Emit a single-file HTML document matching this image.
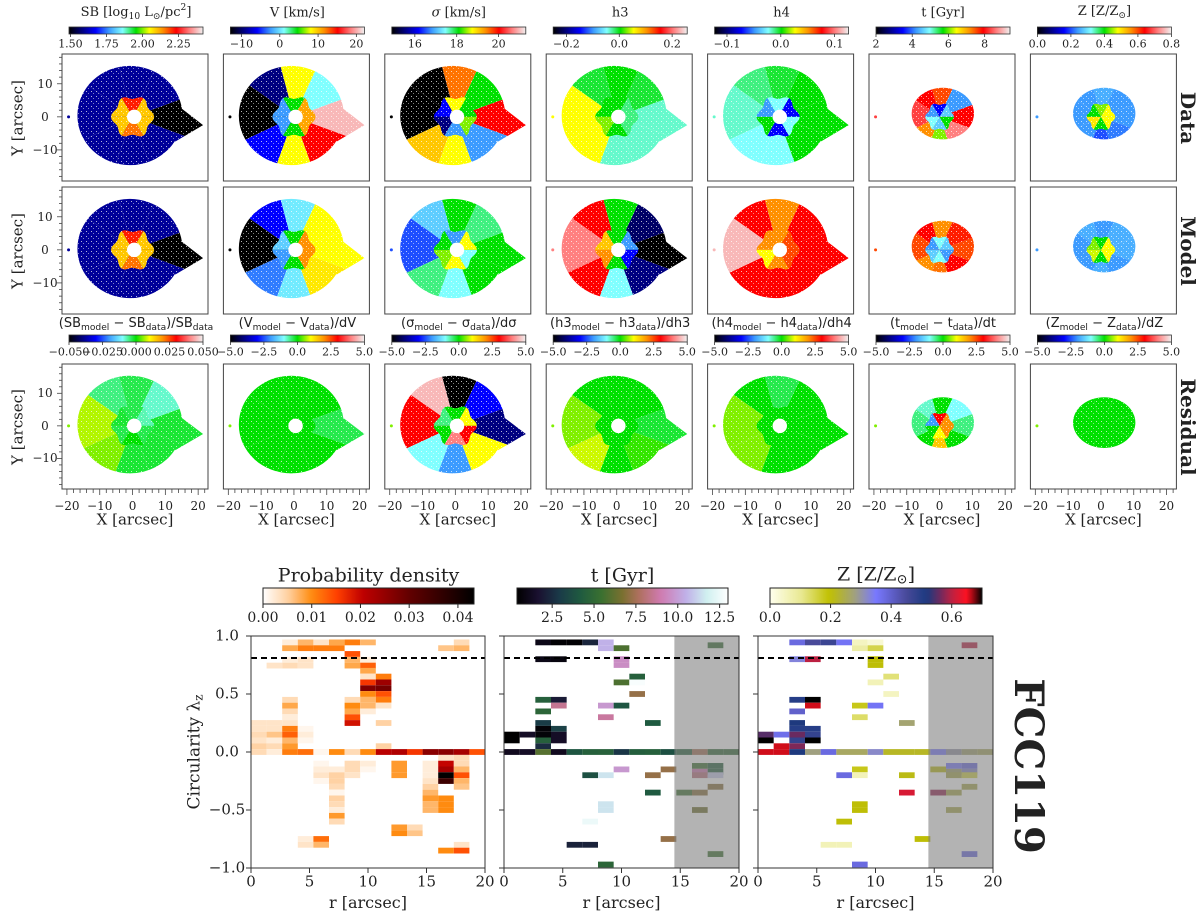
<!DOCTYPE html>
<html><head><meta charset="utf-8">
<style>
body{margin:0;background:#fff;}
#wrap{position:relative;width:1200px;height:914px;overflow:hidden;font-family:"DejaVu Serif","Liberation Serif",serif;color:#222;}
.t{position:absolute;white-space:nowrap;transform:translate(-50%,-50%);line-height:1;}
.s{font-family:"DejaVu Sans","Liberation Sans",sans-serif;}
sub{font-size:70%;vertical-align:-3px;}
sup{font-size:70%;vertical-align:6px;}
</style></head>
<body>
<div id="wrap">
<svg id="svg" width="1200" height="914" style="position:absolute;left:0;top:0"></svg>
</div>
<script>
// ---------- data ----------
const topTitles = ['SB [log<sub>10</sub> L<sub>⊙</sub>/pc<sup>2</sup>]','V [km/s]','<i>σ</i> [km/s]','h3','h4','t [Gyr]','Z [Z/Z<sub>⊙</sub>]'];
const topRanges = [[1.49,2.42],[-12.9,22.1],[14.9,21.3],[-0.25,0.257],[-0.123,0.126],[2,9.4],[0,0.8]];
const topTicks = [[1.5,1.75,2.0,2.25],[-10,0,10,20],[16,18,20],[-0.2,0,0.2],[-0.1,0,0.1],[2,4,6,8],[0,0.2,0.4,0.6,0.8]];
const topTickLabels = [['1.50','1.75','2.00','2.25'],['−10','0','10','20'],['16','18','20'],['−0.2','0.0','0.2'],['−0.1','0.0','0.1'],['2','4','6','8'],['0.0','0.2','0.4','0.6','0.8']];
const resTitles = ['(SB<sub>model</sub> − SB<sub>data</sub>)/SB<sub>data</sub>','(V<sub>model</sub> − V<sub>data</sub>)/dV','(σ<sub>model</sub> − σ<sub>data</sub>)/dσ','(h3<sub>model</sub> − h3<sub>data</sub>)/dh3','(h4<sub>model</sub> − h4<sub>data</sub>)/dh4','(t<sub>model</sub> − t<sub>data</sub>)/dt','(Z<sub>model</sub> − Z<sub>data</sub>)/dZ'];
const resTicks0 = [-0.05,-0.025,0,0.025,0.05];
const resTickLabels0 = ['−0.050','−0.025','0.000','0.025','0.050'];
const resTicks = [-5,-2.5,0,2.5,5];
const resTickLabels = ['−5.0','−2.5','0.0','2.5','5.0'];
const rowLabels = ['Data','Model','Residual'];
const outerVals = [
 [[0.0,0.12,0.12,0.12,0.12,0.12,0.12,0.12],[0.95,0.4,0.6,0.1,0.0,0.2,0.6,0.8],[0.8,0.5,0.72,0.0,0.0,0.65,0.6,0.3],[0.42,0.48,0.5,0.48,0.6,0.6,0.42,0.42],[0.5,0.5,0.48,0.45,0.42,0.4,0.4,0.5],[0.8,0.3,0.75,0.8,0.85,0.7,0.55,0.9],[0.3,0.3,0.32,0.3,0.3,0.3,0.25,0.28]],
 [[0.0,0.12,0.12,0.12,0.12,0.12,0.12,0.12],[0.6,0.6,0.38,0.2,0.0,0.28,0.38,0.62],[0.5,0.45,0.5,0.35,0.25,0.45,0.4,0.5],[0.0,0.08,0.5,0.8,0.9,0.8,0.4,0.1],[0.8,0.8,0.7,0.8,0.95,0.8,0.8,0.8],[0.75,0.78,0.7,0.8,0.75,0.7,0.72,0.8],[0.32,0.32,0.3,0.32,0.3,0.3,0.32,0.3]],
 [[0.48,0.42,0.47,0.45,0.57,0.55,0.48,0.48],[0.47,0.5,0.5,0.5,0.5,0.5,0.5,0.5],[0.1,0.2,0.0,0.95,0.8,0.4,0.3,0.6],[0.48,0.5,0.5,0.5,0.55,0.58,0.5,0.52],[0.5,0.5,0.47,0.5,0.55,0.55,0.5,0.5],[0.45,0.4,0.5,0.42,0.45,0.5,0.65,0.5],[0.5,0.5,0.5,0.5,0.5,0.5,0.5,0.5]]
];
const innerVals = [
 [[0.65,0.78,0.65,0.65,0.72,0.65],[0.68,0.5,0.3,0.3,0.5,0.68],[0.5,0.6,0.2,0.1,0.3,0.55],[0.45,0.5,0.5,0.55,0.5,0.45],[0.2,0.4,0.3,0.5,0.2,0.4],[0.35,0.2,0.3,0.4,0.35,0.5],[0.6,0.55,0.5,0.62,0.5,0.6]],
 [[0.65,0.78,0.65,0.65,0.72,0.65],[0.7,0.5,0.35,0.3,0.5,0.7],[0.6,0.3,0.5,0.55,0.6,0.4],[0.3,0.5,0.65,0.7,0.5,0.2],[0.75,0.7,0.7,0.6,0.7,0.75],[0.35,0.4,0.3,0.35,0.4,0.3],[0.6,0.5,0.55,0.58,0.5,0.6]],
 [[0.43,0.47,0.48,0.47,0.5,0.47],[0.5,0.5,0.5,0.5,0.5,0.5],[0.6,0.5,0.45,0.5,0.9,0.8],[0.5,0.5,0.5,0.5,0.5,0.5],[0.5,0.5,0.5,0.5,0.5,0.5],[0.7,0.8,0.3,0.5,0.6,0.7],[0.5,0.5,0.5,0.5,0.5,0.5]]
];
const probCells = [
[2,0.945,0.002],[3,0.945,0.007],[4,0.945,0.003],[5,0.945,0.008],[6,0.945,0.011],[7,0.945,0.007],[13,0.945,0.004],
[2,0.895,0.008],[3,0.895,0.011],[4,0.895,0.011],[5,0.895,0.011],[12,0.895,0.006],[13,0.895,0.007],
[6,0.845,0.014],
[2,0.795,0.002],[3,0.795,0.003],[6,0.795,0.007],[7,0.795,0.002],
[1,0.745,0.003],[2,0.745,0.004],[3,0.745,0.003],[6,0.745,0.008],[7,0.745,0.013],
[7,0.7,0.008],[7,0.65,0.003],[8,0.65,0.011],[7,0.6,0.016],[8,0.6,0.024],[7,0.55,0.027],[8,0.55,0.028],[7,0.5,0.01],[8,0.5,0.014],
[2,0.45,0.004],[6,0.45,0.004],[7,0.45,0.007],[8,0.45,0.011],
[2,0.4,0.008],[6,0.4,0.01],[7,0.4,0.007],[8,0.4,0.003],
[2,0.35,0.004],[6,0.35,0.008],[7,0.35,0.002],[2,0.3,0.002],[6,0.3,0.014],
[0,0.25,0.003],[1,0.25,0.003],[2,0.25,0.003],[6,0.25,0.019],[8,0.25,0.005],
[0,0.2,0.003],[1,0.2,0.003],[2,0.2,0.011],[3,0.2,0.001],
[0,0.15,0.004],[1,0.15,0.006],[2,0.15,0.013],[3,0.15,0.002],
[0,0.1,0.003],[1,0.1,0.002],[2,0.1,0.007],[3,0.1,0.001],
[0,0.05,0.005],[1,0.05,0.004],[2,0.05,0.009],[8,0.05,0.005],
[0,0.0,0.004],[1,0.0,0.002],[2,0.0,0.011],[3,0.0,0.012],[4,0.0,0.001],[5,0.0,0.01],[6,0.0,0.004],[7,0.0,0.01],[8,0.0,0.021],[9,0.0,0.022],[10,0.0,0.016],[11,0.0,0.026],[12,0.0,0.026],[13,0.0,0.023],[14,0.0,0.014],
[12,-0.05,0.003],[13,-0.05,0.004],
[4,-0.1,0.001],[6,-0.1,0.004],[7,-0.1,0.002],[9,-0.1,0.009],[11,-0.1,0.002],[12,-0.1,0.02],[13,-0.1,0.004],
[4,-0.15,0.002],[5,-0.15,0.002],[6,-0.15,0.004],[7,-0.15,0.001],[9,-0.15,0.009],[11,-0.15,0.002],[12,-0.15,0.023],[13,-0.15,0.007],
[4,-0.2,0.003],[5,-0.2,0.005],[6,-0.2,0.003],[9,-0.2,0.009],[11,-0.2,0.002],[12,-0.2,0.043],[13,-0.2,0.014],
[4,-0.25,0.001],[5,-0.25,0.005],[11,-0.25,0.003],[12,-0.25,0.035],[13,-0.25,0.007],
[5,-0.3,0.004],[11,-0.3,0.005],[13,-0.3,0.006],[5,-0.35,0.001],[11,-0.35,0.007],
[5,-0.4,0.005],[11,-0.4,0.009],[12,-0.4,0.01],[5,-0.45,0.004],[11,-0.45,0.007],[12,-0.45,0.01],[5,-0.5,0.002],[11,-0.5,0.007],[12,-0.5,0.01],
[5,-0.55,0.009],[5,-0.6,0.004],[9,-0.65,0.009],[10,-0.65,0.004],[9,-0.7,0.01],[10,-0.7,0.006],
[3,-0.75,0.002],[4,-0.75,0.012],[3,-0.8,0.003],[4,-0.8,0.007],[13,-0.8,0.003],[12,-0.85,0.01],[13,-0.85,0.014]
];
const ageCells = [
[2,0.945,1.0],[3,0.945,0.5],[4,0.945,0.5],[5,0.945,2.3],[6,0.945,10.5],[13,0.92,5.2],
[6,0.895,10.5],[7,0.895,5.8],[2,0.8,1.0],[3,0.8,0.8],[7,0.8,9.5],[7,0.75,9.5],
[8,0.65,4.5],[7,0.6,5.8],[8,0.6,12.8],[8,0.5,7.2],
[2,0.45,4.5],[3,0.45,2.0],[3,0.4,8.5],[6,0.4,9.8],[7,0.4,4.0],[2,0.35,4.8],[6,0.3,8.7],
[2,0.25,3.0],[9,0.25,4.2],[2,0.2,0.6],[3,0.2,3.2],
[0,0.15,0.4],[1,0.15,1.4],[2,0.15,0.6],[3,0.15,1.4],[0,0.1,0.4],[2,0.1,4.5],[3,0.1,1.4],[2,0.05,2.5],
[0,0.0,1.2],[1,0.0,1.4],[2,0.0,6.0],[3,0.0,1.2],[4,0.0,4.0],[5,0.0,4.5],[6,0.0,4.6],[7,0.0,2.8],[8,0.0,4.4],[9,0.0,4.5],[10,0.0,3.8],[11,0.0,4.5],[12,0.0,7.5],[13,0.0,5.0],[14,0.0,5.0],
[7,-0.15,9.8],[10,-0.15,7.2],[12,-0.12,5.5],[13,-0.12,4.5],[12,-0.17,9.0],[13,-0.17,4.5],
[5,-0.2,3.8],[6,-0.2,11.5],[9,-0.2,7.2],[12,-0.2,8.2],[13,-0.2,11],[13,-0.3,7.0],
[9,-0.35,4.2],[11,-0.35,5.5],[12,-0.35,7.0],[6,-0.45,11.5],[6,-0.5,11.5],[12,-0.5,6.5],
[5,-0.6,12.5],[10,-0.75,7.2],[4,-0.8,2.2],[5,-0.8,2.2],[13,-0.88,5.5],[6,-0.97,4.8]
];
const metCells = [
[2,0.945,0.38],[3,0.945,0.45],[4,0.945,0.47],[5,0.945,0.36],[6,0.945,0.05],[7,0.945,0.03],[13,0.92,0.6],
[6,0.895,0.08],[7,0.895,0.15],[2,0.8,0.33],[3,0.8,0.6],[7,0.8,0.2],[7,0.75,0.2],
[8,0.65,0.12],[7,0.6,0.06],[8,0.5,0.05],
[2,0.45,0.5],[3,0.45,0.7],[3,0.4,0.66],[6,0.4,0.18],[7,0.4,0.36],[2,0.35,0.4],[6,0.3,0.13],
[2,0.25,0.52],[9,0.25,0.27],[2,0.2,0.5],[3,0.2,0.5],
[0,0.15,0.55],[1,0.15,0.37],[2,0.15,0.56],[3,0.15,0.48],[0,0.1,0.7],[2,0.1,0.48],[3,0.1,0.7],[1,0.05,0.66],[2,0.05,0.57],
[0,0.0,0.66],[1,0.0,0.66],[2,0.0,0.52],[3,0.0,0.28],[4,0.0,0.38],[5,0.0,0.26],[6,0.0,0.26],[7,0.0,0.32],[8,0.0,0.22],[9,0.0,0.22],[10,0.0,0.22],[11,0.0,0.35],[12,0.0,0.3],[13,0.0,0.27],[14,0.0,0.26],
[6,-0.15,0.18],[11,-0.15,0.21],[12,-0.12,0.35],[13,-0.12,0.38],[12,-0.17,0.27],[13,-0.17,0.32],
[5,-0.2,0.38],[6,-0.2,0.06],[9,-0.2,0.21],[12,-0.2,0.25],[13,-0.2,0.15],[13,-0.3,0.25],
[9,-0.35,0.62],[11,-0.35,0.58],[12,-0.35,0.25],[6,-0.45,0.2],[6,-0.5,0.2],[12,-0.5,0.25],
[5,-0.6,0.2],[10,-0.75,0.2],[4,-0.8,0.06],[5,-0.8,0.06],[13,-0.88,0.38],[6,-0.97,0.38]
];
const rTicks = [0,5,10,15,20];
const lamTicks = [-1,-0.5,0,0.5,1];
const lamTickLabels = ['−1.0','−0.5','0.0','0.5','1.0'];
const probTicks = [0,0.01,0.02,0.03,0.04];
const probTickLabels = ['0.00','0.01','0.02','0.03','0.04'];
const ageTicks = [2.5,5,7.5,10,12.5];
const ageTickLabels = ['2.5','5.0','7.5','10.0','12.5'];
const metTicks = [0,0.2,0.4,0.6];
const metTickLabels = ['0.0','0.2','0.4','0.6'];
const rCut = 14.5;
const lamCut = 0.81;

const jetStops=[[0,'#000000'],[0.1,'#000080'],[0.2,'#0000ff'],[0.3,'#3c9bff'],[0.4,'#80ffff'],[0.5,'#00e000'],[0.6,'#ffff00'],[0.7,'#ff9000'],[0.8,'#ff0000'],[0.9,'#ff8080'],[1,'#f0f0f0']];
const heatStops=[[0,'#ffffff'],[0.12,'#ffd0a0'],[0.23,'#ff8c10'],[0.35,'#ff4000'],[0.47,'#c00000'],[0.7,'#600000'],[1,'#000000']];
const ageStops=[[0,'#000000'],[0.1,'#1a1030'],[0.2,'#1a3a48'],[0.3,'#1f5a40'],[0.4,'#3a7030'],[0.5,'#7a7030'],[0.58,'#b07060'],[0.68,'#d07ab0'],[0.8,'#c0b0e8'],[0.9,'#d0f0f0'],[1,'#ffffff']];
const metStops=[[0,'#ffffee'],[0.15,'#e8e890'],[0.28,'#c0c000'],[0.4,'#a0a080'],[0.5,'#7878ff'],[0.64,'#4a4a9a'],[0.74,'#1a3a80'],[0.8,'#6a2a60'],[0.86,'#c02040'],[0.93,'#ff1020'],[1,'#000000']];
function hx(c){return [parseInt(c.substr(1,2),16),parseInt(c.substr(3,2),16),parseInt(c.substr(5,2),16)];}
function cmap(stops,t){t=Math.max(0,Math.min(1,t));for(let i=1;i<stops.length;i++){if(t<=stops[i][0]){const a=stops[i-1],b=stops[i];const f=(t-a[0])/(b[0]-a[0]);const A=hx(a[1]),B=hx(b[1]);return 'rgb('+A.map((v,k)=>Math.round(v+(B[k]-v)*f)).join(',')+')';}}return stops[stops.length-1][1];}

const NS='http://www.w3.org/2000/svg';
const svg=document.getElementById('svg');
const wrap=document.getElementById('wrap');
function el(tag,attrs,parent){const e=document.createElementNS(NS,tag);for(const k in attrs)e.setAttribute(k,attrs[k]);(parent||svg).appendChild(e);return e;}
function txt(html,x,y,size,extra){const d=document.createElement('div');d.className='t '+(extra||'');d.style.left=x+'px';d.style.top=y+'px';d.style.fontSize=size+'px';d.innerHTML=html;wrap.appendChild(d);return d;}
function gradient(id,stops){const g=el('linearGradient',{id:id,x1:0,x2:1,y1:0,y2:0},defs);for(let i=0;i<=40;i++){el('stop',{offset:i/40,'stop-color':cmap(stops,i/40)},g);}}
const defs=el('defs',{});
gradient('gJet',jetStops);gradient('gHeat',heatStops);gradient('gAge',ageStops);gradient('gMet',metStops);

const colL=i=>62+i*161.4, PW=146;
const rowT=[54,187,364], rowH=[127,127,125];
for(let c=0;c<7;c++){
  const L=colL(c);
  [[0,13,topTitles[c],topRanges[c],topTicks[c],topTickLabels[c]],[2,325,resTitles[c],c==0?[-0.05,0.05]:[-5,5],c==0?resTicks0:resTicks,c==0?resTickLabels0:resTickLabels]].forEach(([r,ty,title,rng,tks,tl])=>{
    const by = r==0?27:335;
    const t=txt(title,L+7+67,ty,13,r==2?'s':'');
    
    
    const bar=el('rect',{x:L+7,y:by,width:134,height:7,fill:'url(#gJet)',stroke:'#333','stroke-width':0.8});
    
    
    const bx=v=>L+7+(v-rng[0])/(rng[1]-rng[0])*134;
    tks.forEach((v,k)=>{
      el('line',{x1:bx(v),x2:bx(v),y1:by+7,y2:by+10,stroke:'#333','stroke-width':0.8});
      const lab=txt(tl[k],bx(v),by+17,11);
      
      
    });
  });
  for(let r=0;r<3;r++){
    const T=rowT[r],H=rowH[r];
    const xs=d=>L+(d+21.5)/44.5*PW, ys=d=>T+(19-d)/38.4*H;
    const g=el('g',{});
    
    
    const small=(c>=5);
    const cid='clip'+r+'_'+c;
    const cp=el('clipPath',{id:cid},defs);
    let cx,cy,rx,ry;
    if(small){cx=1;cy=1;rx=9.5;ry=7.8;}else{cx=-0.8;cy=0.4;rx=16;ry=15;}
    el('ellipse',{cx:xs(cx),cy:ys(cy),rx:rx/44.5*PW,ry:ry/38.4*H},cp);
    if(!small){el('polygon',{points:[[13,4],[21.5,-2.5],[13,-7.5]].map(p=>xs(p[0])+','+ys(p[1])).join(' ')},cp);}
    const gc=el('g',{'clip-path':'url(#'+cid+')'},g);
    const edges=[-20,20,65,105,145,205,250,290,340];
    const ov=outerVals[r][c];
    for(let k=0;k<8;k++){
      const a0=edges[k]*Math.PI/180,a1=edges[k+1]*Math.PI/180;const R=40;
      const pts=[[xs(0),ys(0)]];
      for(let s=0;s<=6;s++){const a=a0+(a1-a0)*s/6;pts.push([xs(R*Math.cos(a)),ys(R*Math.sin(a))]);}
      const p=el('polygon',{points:pts.map(q=>q.join(',')).join(' '),fill:cmap(jetStops,ov[k])},gc);
      
      
    }
    const iv=innerVals[r][c];
    const rin=small?4:6;
    for(let k=0;k<6;k++){
      const a0=k*60*Math.PI/180,a1=(k+1)*60*Math.PI/180;const pts=[];
      for(let s=0;s<=8;s++){const a=a0+(a1-a0)*s/8;const rr=rin*(1+0.1*Math.cos(6*a));pts.push([xs(rr*Math.cos(a)),ys(rr*Math.sin(a))]);}
      pts.push([xs(0),ys(0)]);
      const p=el('polygon',{points:pts.map(q=>q.join(',')).join(' '),fill:cmap(jetStops,iv[k])},gc);
      
      
    }
    const pat='pat'+r+'_'+c;
    const pp=el('pattern',{id:pat,width:5,height:5,patternUnits:'userSpaceOnUse'},defs);
    el('rect',{x:1,y:1,width:1,height:1,fill:'#fff',opacity:0.7},pp);
    el('rect',{x:3,y:3,width:1,height:1,fill:'#fff',opacity:0.5},pp);
    el('rect',{x:L,y:T,width:PW,height:H,fill:'url(#'+pat+')'},gc);
    if(!small){el('circle',{cx:xs(0.5),cy:ys(0),r:2.2/44.5*PW,fill:'#fff'},g);}
    el('circle',{cx:xs(-19.5),cy:ys(0),r:1.5,fill:cmap(jetStops,r==2?0.55:ov[4])},g);
    el('rect',{x:L,y:T,width:PW,height:H,fill:'none',stroke:'#444','stroke-width':1},g);
    if(c==0){
      for(let v=-18;v<=18;v+=2){const maj=(v%10==0);el('line',{x1:L,x2:L-(maj?5:3),y1:ys(v),y2:ys(v),stroke:'#444','stroke-width':0.8});}
      [-10,0,10].forEach(v=>{const lb=txt(v<0?'−'+(-v):''+v,L-17,ys(v),12);});
      const yl=txt('Y [arcsec]',18,T+H/2,15);yl.style.transform='translate(-50%,-50%) rotate(-90deg)';
      
    }
    if(r==2){
      for(let v=-20;v<=22;v+=2){const maj=(v%10==0);el('line',{x1:xs(v),x2:xs(v),y1:T+H,y2:T+H+(maj?6:4),stroke:'#444','stroke-width':0.8});}
      [-20,-10,0,10,20].forEach(v=>{const lb=txt(v<0?'−'+(-v):''+v,xs(v),T+H+17,12);});
      const xl=txt('X [arcsec]',L+PW/2,520,15);
    }
    if(c==6){
      const rl=txt('<b>'+rowLabels[r]+'</b>',1188,T+H/2,20);rl.style.transform='translate(-50%,-50%) rotate(90deg)';
      
    }
  }
}

const bp=[{L:251,R:485,cells:probCells,stops:heatStops,rng:[0,0.0433],grad:'gHeat',cb:[263,474],title:'Probability density',tk:probTicks,tl:probTickLabels,name:'probability'},
          {L:504,R:739,cells:ageCells,stops:ageStops,rng:[0.4,13.0],grad:'gAge',cb:[517,728],title:'t [Gyr]',tk:ageTicks,tl:ageTickLabels,name:'age'},
          {L:758,R:993,cells:metCells,stops:metStops,rng:[0,0.7],grad:'gMet',cb:[770,982],title:'Z [Z/Z<sub>⊙</sub>]',tk:metTicks,tl:metTickLabels,name:'metallicity'}];
const BT=636,BB=868;
bp.forEach((p,pi)=>{
  const xr=v=>p.L+v/20*(p.R-p.L), yl=v=>BT+(1-v)/2*(BB-BT);
  const g=el('g',{});
  
  
  const bw=20/15;
  p.cells.forEach(cl=>{
    const x0=xr(cl[0]*bw),x1=xr((cl[0]+1)*bw);
    const rc=el('rect',{x:x0,y:yl(cl[1]+0.025),width:x1-x0,height:yl(cl[1]-0.025)-yl(cl[1]+0.025),fill:cmap(p.stops,(cl[2]-p.rng[0])/(p.rng[1]-p.rng[0]))},g);
    
    
  });
  if(pi>0){const sh=el('rect',{x:xr(rCut),y:BT,width:p.R-xr(rCut),height:BB-BT,fill:'#808080',opacity:0.6},g);
    }
  const dl=el('line',{x1:p.L,x2:p.R,y1:yl(lamCut),y2:yl(lamCut),stroke:'#000','stroke-width':2,'stroke-dasharray':'6,4'},g);
  
  el('rect',{x:p.L,y:BT,width:p.R-p.L,height:BB-BT,fill:'none',stroke:'#333','stroke-width':1},g);
  rTicks.forEach(v=>{el('line',{x1:xr(v),x2:xr(v),y1:BB,y2:BB+5,stroke:'#333'});
    const lb=txt(''+v,xr(v),BB+14,15);});
  lamTicks.forEach((v,k)=>{el('line',{x1:p.L,x2:p.L-5,y1:yl(v),y2:yl(v),stroke:'#333'});
    if(pi==0){const lb=txt(lamTickLabels[k],p.L-24,yl(v),15);}});
  const xt=txt('r [arcsec]',(p.L+p.R)/2,903,16);
  const cb=el('rect',{x:p.cb[0],y:588,width:p.cb[1]-p.cb[0],height:16,fill:'url(#'+p.grad+')',stroke:'#222','stroke-width':1});
  
  const cx=v=>p.cb[0]+(v-p.rng[0])/(p.rng[1]-p.rng[0])*(p.cb[1]-p.cb[0]);
  p.tk.forEach((v,k)=>{el('line',{x1:cx(v),x2:cx(v),y1:604,y2:608,stroke:'#222'});
    const lb=txt(p.tl[k],cx(v),618,14);});
  const tt=txt(p.title,(p.cb[0]+p.cb[1])/2,576,19);
});
const yt=txt('Circularity λ<sub>z</sub>',196,752,17);yt.style.transform='translate(-50%,-50%) rotate(-90deg)';

const gn=txt('<b>FCC119</b>',1028,766,40);gn.style.transform='translate(-50%,-50%) rotate(90deg)';

</script>
</body></html>
